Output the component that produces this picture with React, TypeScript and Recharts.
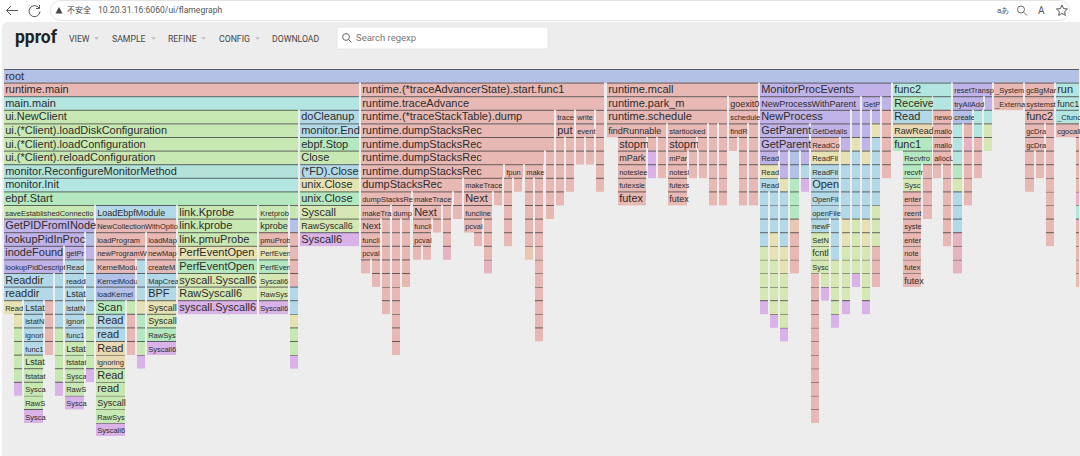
/**
 * pprof flame graph page, frames drawn as stacked horizontal bars
 */

import React from 'react';
import { BarChart, Bar, XAxis, YAxis } from 'recharts';

// [label, start, end, package group]
type Frame = [string, number, number, string];

const level0: Frame[] = [['root', 4, 1080, 'peri']];
const level1: Frame[] = [
  ['runtime.main', 4, 360, 'rt'], ['runtime.(*traceAdvancerState).start.func1', 361, 605, 'rt'],
  ['runtime.mcall', 607, 759, 'rt'], ['MonitorProcEvents', 760, 892, 'purple'], ['func2', 893, 952, 'teal'],
  ['resetTransport', 953, 993, 'purple'], ['_System', 994, 1024, 'rt'], ['gcBgMarkWorker', 1025, 1055, 'rt'],
  ['run', 1056, 1080, 'teal'],
];
const level2: Frame[] = [
  ['main.main', 4, 360, 'teal'], ['runtime.traceAdvance', 361, 605, 'rt'], ['runtime.park_m', 607, 728, 'rt'],
  ['goexit0', 729, 759, 'rt'], ['NewProcessWithParent', 760, 861, 'purple'], ['GetParent', 862, 881, 'purple'],
  ['', 882, 892, 'purple'], ['Receive', 893, 933, 'mint'], ['', 933, 952, 'teal'], ['tryAllAdd', 953, 984, 'purple'],
  ['', 985, 993, 'purple'], ['_External', 994, 1024, 'rt'], ['systemstack', 1025, 1055, 'rt'], ['func1', 1056, 1080, 'teal'],
];
const level3: Frame[] = [
  ['ui.NewClient', 4, 299, 'green'], ['doCleanup', 300, 360, 'lblue'], ['runtime.(*traceStackTable).dump', 361, 555, 'rt'],
  ['traceFrame', 556, 575, 'rt'], ['writeGroup', 576, 595, 'rt'], ['', 596, 605, 'rt'], ['runtime.schedule', 607, 728, 'rt'],
  ['schedule', 729, 759, 'rt'], ['NewProcess', 760, 851, 'purple'], ['', 852, 861, 'purple'], ['', 862, 871, 'purple'],
  ['', 872, 881, 'purple'], ['', 882, 892, 'rt'], ['Read', 893, 933, 'lblue'], ['newobject', 933, 952, 'rt'],
  ['create', 953, 973, 'peri'], ['', 974, 983, 'teal'], ['', 984, 993, 'teal'], ['func2', 1025, 1055, 'rt'],
  ['_Cfunc', 1056, 1080, 'teal'],
];
const level4: Frame[] = [
  ['ui.(*Client).loadDiskConfiguration', 4, 299, 'green'], ['monitor.End', 300, 360, 'lblue'],
  ['runtime.dumpStacksRec', 361, 555, 'rt'], ['put', 556, 575, 'rt'], ['event', 576, 595, 'rt'], ['', 596, 605, 'rt'],
  ['findRunnable', 607, 667, 'rt'], ['startlockedm', 668, 708, 'rt'], ['', 709, 718, 'rt'], ['', 719, 728, 'rt'],
  ['findRunnable', 729, 748, 'rt'], ['', 749, 759, 'rt'], ['GetParent', 760, 810, 'purple'], ['GetDetails', 811, 851, 'purple'],
  ['', 852, 861, 'purple'], ['', 862, 871, 'purple'], ['', 872, 881, 'khaki'], ['', 882, 892, 'rt'], ['RawRead', 893, 933, 'tan'],
  ['mallocgc', 933, 952, 'rt'], ['', 953, 963, 'teal'], ['', 964, 973, 'rt'], ['', 974, 983, 'teal'], ['', 984, 993, 'ygreen'],
  ['gcDrain', 1025, 1045, 'rt'], ['', 1046, 1055, 'rt'], ['cgocall', 1056, 1080, 'rt'],
];
const level5: Frame[] = [
  ['ui.(*Client).loadConfiguration', 4, 299, 'green'], ['ebpf.Stop', 300, 360, 'mint'], ['runtime.dumpStacksRec', 361, 555, 'rt'],
  ['', 556, 565, 'rt'], ['', 566, 575, 'rt'], ['', 576, 585, 'rt'], ['', 586, 595, 'rt'], ['', 596, 605, 'rt'],
  ['stopm', 618, 647, 'rt'], ['', 648, 657, 'rt'], ['', 658, 667, 'rt'], ['stopm', 668, 697, 'rt'], ['', 698, 708, 'rt'],
  ['', 709, 718, 'rt'], ['', 719, 728, 'rt'], ['', 729, 738, 'rt'], ['', 739, 748, 'rt'], ['', 749, 759, 'rt'],
  ['GetParent', 760, 810, 'purple'], ['ReadConfig', 811, 840, 'rt'], ['', 841, 851, 'purple'], ['', 852, 861, 'khaki'],
  ['', 862, 871, 'purple'], ['', 872, 881, 'lblue'], ['', 882, 892, 'rt'], ['func1', 893, 933, 'mint'], ['mallocgc', 933, 952, 'rt'],
  ['', 953, 963, 'teal'], ['', 964, 973, 'pink'], ['', 974, 983, 'rt'], ['', 984, 993, 'ygreen'], ['gcDrain', 1025, 1045, 'rt'],
  ['', 1046, 1055, 'rt'], ['', 1076, 1080, 'rt'],
];
const level6: Frame[] = [
  ['ui.(*Client).reloadConfiguration', 4, 299, 'green'], ['Close', 300, 360, 'green'], ['runtime.dumpStacksRec', 361, 545, 'rt'],
  ['', 546, 555, 'rt'], ['', 556, 565, 'rt'], ['', 566, 575, 'rt'], ['', 576, 585, 'rt'], ['', 586, 595, 'rt'], ['', 596, 605, 'rt'],
  ['mPark', 618, 647, 'rt'], ['', 648, 657, 'violet'], ['', 658, 667, 'rt'], ['mPark', 668, 688, 'rt'], ['', 689, 698, 'rt'],
  ['', 699, 708, 'rt'], ['', 709, 718, 'rt'], ['', 719, 728, 'rt'], ['', 739, 748, 'rt'], ['', 749, 759, 'rt'],
  ['ReadLink', 760, 779, 'purple'], ['', 780, 789, 'purple'], ['', 790, 800, 'peri'], ['', 801, 810, 'purple'],
  ['ReadFile', 811, 840, 'khaki'], ['', 841, 851, 'khaki'], ['', 852, 861, 'lblue'], ['', 862, 871, 'khaki'], ['', 872, 881, 'lblue'],
  ['', 882, 892, 'rt'], ['Recvfrom', 903, 933, 'mint'], ['allocLarge', 933, 952, 'rt'], ['', 953, 963, 'teal'], ['', 964, 973, 'rt'],
  ['', 974, 983, 'rt'], ['', 1025, 1035, 'rt'], ['', 1036, 1045, 'rt'], ['', 1046, 1055, 'rt'], ['', 1076, 1080, 'rt'],
];
const level7: Frame[] = [
  ['monitor.ReconfigureMonitorMethod', 4, 299, 'lteal'], ['(*FD).Close', 300, 360, 'lblue'], ['runtime.dumpStacksRec', 361, 504, 'rt'],
  ['fpunwindExpand', 505, 524, 'rt'], ['makeTraceFrames', 525, 544, 'rt'], ['', 546, 555, 'rt'], ['', 556, 565, 'rt'], ['', 566, 575, 'rt'],
  ['', 596, 605, 'rt'], ['notesleep', 618, 647, 'rt'], ['', 648, 657, 'violet'], ['', 658, 667, 'rt'], ['notesleep', 668, 688, 'rt'],
  ['', 689, 698, 'rt'], ['', 699, 708, 'rt'], ['', 709, 718, 'rt'], ['', 719, 728, 'rt'], ['', 739, 748, 'rt'], ['', 749, 759, 'rt'],
  ['ReadLink', 760, 779, 'khaki'], ['', 780, 789, 'purple'], ['', 790, 800, 'peri'], ['', 801, 810, 'lblue'], ['ReadFile', 811, 840, 'lblue'],
  ['', 841, 851, 'lblue'], ['', 852, 861, 'lblue'], ['', 862, 871, 'lblue'], ['', 872, 881, 'lblue'], ['', 882, 892, 'rt'],
  ['recvfrom', 903, 922, 'mint'], ['', 923, 933, 'rt'], ['', 933, 942, 'rt'], ['', 943, 952, 'rt'], ['', 953, 963, 'mint'], ['', 964, 973, 'rt'],
  ['', 974, 983, 'rt'], ['', 1025, 1035, 'rt'], ['', 1036, 1045, 'rt'], ['', 1046, 1055, 'rt'], ['', 1076, 1080, 'rt'],
];
const level8: Frame[] = [
  ['monitor.Init', 4, 299, 'teal'], ['unix.Close', 300, 360, 'khaki'], ['dumpStacksRec', 361, 463, 'rt'], ['makeTraceFrames', 464, 503, 'rt'],
  ['', 504, 513, 'rt'], ['', 514, 523, 'rt'], ['', 525, 534, 'rt'], ['', 535, 544, 'rt'], ['', 546, 555, 'rt'], ['', 556, 565, 'rt'],
  ['', 566, 575, 'rt'], ['', 596, 605, 'rt'], ['futexsleep', 618, 647, 'rt'], ['futexsleep', 668, 688, 'rt'], ['', 709, 718, 'rt'],
  ['', 719, 728, 'rt'], ['', 739, 748, 'rt'], ['', 749, 759, 'rt'], ['ReadLink', 760, 779, 'lblue'], ['', 780, 789, 'khaki'],
  ['', 790, 800, 'mint'], ['', 801, 810, 'violet'], ['Open', 811, 840, 'lblue'], ['', 841, 851, 'lblue'], ['', 852, 861, 'lblue'],
  ['', 862, 871, 'lblue'], ['', 872, 881, 'lblue'], ['Syscall', 903, 922, 'ygreen'], ['', 923, 933, 'rt'], ['', 943, 952, 'rt'],
  ['', 953, 963, 'ygreen'], ['', 964, 973, 'rt'], ['', 1025, 1035, 'rt'], ['', 1046, 1055, 'rt'], ['', 1076, 1080, 'rt'],
];
const level9: Frame[] = [
  ['ebpf.Start', 4, 299, 'mint'], ['unix.Close', 300, 360, 'mint'], ['dumpStacksRec', 361, 412, 'rt'], ['makeTraceFrames', 413, 453, 'rt'],
  ['', 454, 463, 'rt'], ['Next', 464, 493, 'rt'], ['', 494, 503, 'rt'], ['', 504, 513, 'rt'], ['', 525, 534, 'rt'], ['', 535, 544, 'rt'],
  ['', 546, 555, 'rt'], ['', 556, 565, 'rt'], ['futex', 618, 647, 'rt'], ['futex', 668, 688, 'rt'], ['', 709, 718, 'rt'], ['', 719, 728, 'rt'],
  ['', 739, 748, 'rt'], ['', 749, 759, 'rt'], ['', 760, 769, 'lblue'], ['', 770, 779, 'lblue'], ['', 780, 789, 'lblue'], ['', 790, 800, 'mint'],
  ['OpenFile', 811, 840, 'lblue'], ['', 841, 851, 'lblue'], ['', 852, 861, 'lblue'], ['', 862, 871, 'lblue'], ['', 872, 881, 'lblue'],
  ['entersyscall', 903, 922, 'rt'], ['', 923, 933, 'rt'], ['', 943, 952, 'rt'], ['', 953, 963, 'lblue'], ['', 964, 973, 'rt'],
  ['', 1046, 1055, 'rt'], ['', 1076, 1080, 'pink'],
];
const level10: Frame[] = [
  ['saveEstablishedConnection', 4, 95, 'green'], ['LoadEbpfModule', 96, 177, 'lblue'], ['link.Kprobe', 178, 258, 'green'],
  ['Kretprobe', 259, 289, 'green'], ['', 290, 299, 'green'], ['Syscall', 300, 360, 'ygreen'], ['makeTraceFrames', 361, 391, 'rt'],
  ['dumpStacksRec', 392, 411, 'rt'], ['Next', 413, 442, 'rt'], ['', 443, 452, 'rt'], ['', 453, 463, 'rt'], ['funcline1', 464, 493, 'rt'],
  ['', 504, 513, 'rt'], ['', 525, 534, 'rt'], ['', 535, 544, 'rt'], ['', 546, 555, 'rt'], ['', 760, 769, 'lblue'], ['', 770, 779, 'lblue'],
  ['', 780, 789, 'lblue'], ['', 790, 800, 'mint'], ['openFile', 811, 840, 'lblue'], ['', 841, 851, 'lblue'], ['', 852, 861, 'lblue'],
  ['', 862, 871, 'lblue'], ['', 872, 881, 'ygreen'], ['reentersyscall', 903, 922, 'rt'], ['', 923, 933, 'rt'], ['', 943, 952, 'rt'],
  ['', 953, 963, 'lblue'], ['', 1046, 1055, 'rt'], ['', 1076, 1080, 'teal'],
];
const level11: Frame[] = [
  ['GetPIDFromINode', 4, 95, 'purple'], ['NewCollectionWithOptions', 96, 177, 'rt'], ['link.kprobe', 178, 258, 'green'],
  ['kprobe', 259, 289, 'green'], ['', 290, 299, 'peri'], ['RawSyscall6', 300, 360, 'ygreen'], ['Next', 361, 381, 'rt'], ['', 382, 391, 'rt'],
  ['', 392, 401, 'rt'], ['', 402, 411, 'rt'], ['funcline1', 413, 432, 'rt'], ['', 433, 442, 'rt'], ['', 443, 452, 'rt'], ['pcvalue', 464, 483, 'rt'],
  ['', 484, 493, 'rt'], ['', 504, 513, 'rt'], ['', 525, 534, 'rt'], ['', 535, 544, 'rt'], ['', 760, 769, 'lblue'], ['', 770, 779, 'lblue'],
  ['', 780, 789, 'lblue'], ['', 790, 800, 'orange'], ['newFile', 811, 830, 'lblue'], ['', 831, 840, 'lblue'], ['', 842, 851, 'khaki'],
  ['', 852, 861, 'ygreen'], ['', 862, 871, 'khaki'], ['', 872, 881, 'ygreen'], ['systemstack', 903, 922, 'rt'], ['', 943, 952, 'rt'],
  ['', 953, 963, 'lblue'], ['', 1046, 1055, 'rt'], ['', 1076, 1080, 'rt'],
];
const level12: Frame[] = [
  ['lookupPidInProc', 4, 85, 'purple'], ['', 86, 95, 'peri'], ['loadProgram', 96, 146, 'rt'], ['loadMaps', 147, 177, 'rt'],
  ['link.pmuProbe', 178, 258, 'green'], ['pmuProbe', 259, 289, 'rt'], ['', 290, 299, 'rt'], ['Syscall6', 300, 360, 'violet'],
  ['funcline1', 361, 381, 'rt'], ['', 382, 391, 'rt'], ['', 392, 401, 'rt'], ['', 402, 411, 'rt'], ['pcvalue', 413, 432, 'rt'], ['', 443, 452, 'rt'],
  ['', 474, 483, 'rt'], ['', 484, 493, 'rt'], ['', 504, 513, 'rt'], ['', 525, 534, 'rt'], ['', 535, 544, 'rt'], ['', 760, 769, 'lblue'],
  ['', 770, 779, 'khaki'], ['', 780, 789, 'lblue'], ['', 790, 800, 'rt'], ['SetNonblock', 811, 830, 'ygreen'], ['', 831, 840, 'lblue'],
  ['', 842, 851, 'khaki'], ['', 852, 861, 'ygreen'], ['', 862, 871, 'khaki'], ['', 872, 881, 'ygreen'], ['entersyscall', 903, 922, 'rt'],
  ['', 943, 952, 'rt'], ['', 953, 963, 'pink'], ['', 1046, 1055, 'rt'], ['', 1076, 1080, 'rt'],
];
const level13: Frame[] = [
  ['inodeFound', 4, 64, 'purple'], ['getPrograms', 65, 85, 'purple'], ['', 86, 95, 'purple'], ['newProgramWithOptions', 96, 146, 'rt'],
  ['newMapWithOptions', 147, 177, 'rt'], ['PerfEventOpen', 178, 258, 'khaki'], ['PerfEventOpen', 259, 289, 'khaki'], ['', 290, 299, 'rt'],
  ['pcvalue', 361, 381, 'rt'], ['', 382, 391, 'rt'], ['', 392, 401, 'rt'], ['', 402, 411, 'rt'], ['', 413, 422, 'rt'], ['', 423, 432, 'rt'],
  ['', 443, 452, 'pink'], ['', 484, 493, 'rt'], ['', 525, 534, 'orange'], ['', 535, 544, 'rt'], ['', 760, 769, 'ygreen'], ['', 770, 779, 'khaki'],
  ['', 780, 789, 'khaki'], ['', 790, 800, 'rt'], ['fcntl', 811, 830, 'ygreen'], ['', 831, 840, 'lblue'], ['', 842, 851, 'ygreen'],
  ['', 852, 861, 'ygreen'], ['', 862, 871, 'ygreen'], ['', 872, 881, 'rt'], ['notewakeup', 903, 922, 'rt'], ['', 953, 963, 'pink'], ['', 1076, 1080, 'rt'],
];
const level14: Frame[] = [
  ['lookupPidDescriptors', 4, 64, 'purple'], ['ReadDir', 65, 85, 'lblue'], ['', 86, 95, 'lblue'], ['KernelModuleTypes', 96, 136, 'rt'],
  ['', 137, 146, 'lblue'], ['createMap', 147, 177, 'rt'], ['PerfEventOpen', 178, 258, 'mint'], ['PerfEventOpen', 259, 289, 'mint'], ['', 290, 299, 'rt'],
  ['', 361, 371, 'rt'], ['', 372, 381, 'rt'], ['', 382, 391, 'rt'], ['', 392, 401, 'rt'], ['', 402, 411, 'rt'], ['', 484, 493, 'pink'], ['', 535, 544, 'rt'],
  ['', 760, 769, 'ygreen'], ['', 770, 779, 'ygreen'], ['', 780, 789, 'khaki'], ['', 790, 800, 'rt'], ['Syscall', 811, 830, 'ygreen'], ['', 831, 840, 'ygreen'],
  ['', 842, 851, 'ygreen'], ['', 852, 861, 'ygreen'], ['', 862, 871, 'ygreen'], ['', 872, 881, 'rt'], ['futexwakeup', 903, 922, 'rt'], ['', 953, 963, 'pink'],
  ['', 1076, 1080, 'rt'],
];
const level15: Frame[] = [
  ['Readdir', 4, 54, 'lblue'], ['', 55, 64, 'lblue'], ['readdir', 65, 85, 'lblue'], ['', 86, 95, 'lblue'], ['KernelModuleTypes', 96, 136, 'peri'],
  ['', 137, 146, 'lblue'], ['MapCreate', 147, 177, 'lblue'], ['syscall.Syscall6', 178, 258, 'ygreen'], ['Syscall6', 259, 289, 'ygreen'], ['', 290, 299, 'rt'],
  ['', 372, 381, 'rt'], ['', 382, 391, 'rt'], ['', 392, 401, 'rt'], ['', 402, 411, 'rt'], ['', 535, 544, 'rt'], ['', 760, 769, 'ygreen'], ['', 770, 779, 'ygreen'],
  ['', 780, 789, 'ygreen'], ['', 811, 820, 'rt'], ['', 821, 830, 'ygreen'], ['', 831, 840, 'ygreen'], ['', 842, 851, 'ygreen'], ['', 852, 861, 'violet'],
  ['', 862, 871, 'ygreen'], ['', 872, 881, 'rt'], ['futex', 903, 922, 'rt'], ['', 1076, 1080, 'rt'],
];
const level16: Frame[] = [
  ['readdir', 4, 54, 'lblue'], ['', 55, 64, 'lblue'], ['Lstat', 65, 85, 'lblue'], ['', 86, 95, 'lblue'], ['loadKernelModule', 96, 136, 'peri'],
  ['', 137, 146, 'lblue'], ['BPF', 147, 177, 'lblue'], ['RawSyscall6', 178, 258, 'ygreen'], ['RawSyscall6', 259, 289, 'ygreen'], ['', 290, 299, 'lblue'],
  ['', 382, 391, 'rt'], ['', 392, 401, 'rt'], ['', 535, 544, 'rt'], ['', 760, 769, 'ygreen'], ['', 770, 779, 'ygreen'], ['', 780, 789, 'ygreen'],
  ['', 811, 820, 'rt'], ['', 821, 830, 'violet'], ['', 831, 840, 'ygreen'], ['', 842, 851, 'ygreen'], ['', 862, 871, 'ygreen'],
];
const level17: Frame[] = [
  ['ReadDirent', 4, 23, 'khaki'], ['Lstat', 24, 44, 'lblue'], ['', 45, 54, 'rt'], ['', 55, 64, 'lblue'], ['lstatNolog', 65, 85, 'lblue'], ['', 86, 95, 'lblue'],
  ['Scan', 96, 126, 'mint'], ['', 127, 136, 'green'], ['', 137, 146, 'khaki'], ['Syscall', 147, 177, 'khaki'], ['syscall.Syscall6', 178, 258, 'violet'],
  ['Syscall6', 259, 289, 'violet'], ['', 290, 299, 'lblue'], ['', 382, 391, 'rt'], ['', 392, 401, 'rt'], ['', 535, 544, 'rt'], ['', 760, 769, 'violet'],
  ['', 770, 779, 'ygreen'], ['', 780, 789, 'ygreen'], ['', 811, 820, 'rt'], ['', 831, 840, 'ygreen'], ['', 842, 851, 'violet'], ['', 862, 871, 'violet'],
];
const level18: Frame[] = [
  ['', 14, 23, 'khaki'], ['lstatNolog', 24, 44, 'lblue'], ['', 45, 54, 'rt'], ['', 55, 64, 'lblue'], ['ignoringEINTR', 65, 85, 'lblue'], ['', 86, 95, 'green'],
  ['Read', 96, 126, 'lblue'], ['', 127, 136, 'rt'], ['', 137, 146, 'mint'], ['Syscall', 147, 177, 'ygreen'], ['', 290, 299, 'khaki'], ['', 392, 401, 'rt'],
  ['', 535, 544, 'rt'], ['', 770, 779, 'violet'], ['', 780, 789, 'ygreen'], ['', 811, 820, 'rt'], ['', 831, 840, 'violet'],
];
const level19: Frame[] = [
  ['', 14, 23, 'green'], ['ignoringEINTR', 24, 44, 'lblue'], ['', 45, 54, 'rt'], ['', 55, 64, 'green'], ['func1', 65, 85, 'lblue'], ['', 86, 95, 'green'],
  ['read', 96, 126, 'lblue'], ['', 127, 136, 'rt'], ['', 137, 146, 'mint'], ['RawSyscall6', 147, 177, 'mint'], ['', 290, 299, 'green'], ['', 392, 401, 'rt'],
  ['', 535, 544, 'rt'], ['', 780, 789, 'violet'], ['', 811, 820, 'rt'],
];
const level20: Frame[] = [
  ['', 14, 23, 'green'], ['func1', 24, 44, 'lblue'], ['', 45, 54, 'rt'], ['', 55, 64, 'green'], ['Lstat', 65, 85, 'green'], ['', 86, 95, 'green'],
  ['Read', 96, 126, 'tan'], ['', 127, 136, 'rt'], ['', 137, 146, 'green'], ['Syscall6', 147, 177, 'violet'], ['', 290, 299, 'green'], ['', 392, 401, 'rt'],
  ['', 811, 820, 'rt'],
];
const level21: Frame[] = [
  ['', 14, 23, 'green'], ['Lstat', 24, 44, 'green'], ['', 55, 64, 'green'], ['fstatat', 65, 85, 'green'], ['', 86, 95, 'green'], ['ignoringEINTRIO', 96, 126, 'tan'],
  ['', 137, 146, 'violet'], ['', 290, 299, 'violet'], ['', 811, 820, 'rt'],
];
const level22: Frame[] = [
  ['', 14, 23, 'green'], ['fstatat', 24, 44, 'green'], ['', 55, 64, 'green'], ['Syscall', 65, 85, 'green'], ['', 86, 95, 'violet'], ['Read', 96, 126, 'green'],
  ['', 811, 820, 'rt'],
];
const level23: Frame[] = [
  ['', 14, 23, 'violet'], ['Syscall', 24, 44, 'green'], ['', 55, 64, 'violet'], ['RawSyscall6', 65, 85, 'green'], ['read', 96, 126, 'green'], ['', 811, 820, 'rt'],
];
const level24: Frame[] = [
  ['RawSyscall6', 24, 44, 'green'], ['Syscall6', 65, 85, 'violet'], ['Syscall', 96, 126, 'green'], ['', 811, 820, 'rt'],
];
const level25: Frame[] = [['Syscall6', 24, 44, 'violet'], ['RawSyscall6', 96, 126, 'green'], ['', 811, 820, 'rt']];
const level26: Frame[] = [['Syscall6', 96, 126, 'violet']];

const levels = [
  level0, level1, level2, level3, level4, level5, level6, level7, level8, level9, level10, level11, level12, level13,
  level14, level15, level16, level17, level18, level19, level20, level21, level22, level23, level24, level25, level26,
];

const menuItems = ['VIEW', 'SAMPLE', 'REFINE', 'CONFIG', 'DOWNLOAD'];

const colors: Record<string, string> = {
  rt: '#e8b9b4',
  teal: '#b3e5e1',
  lteal: '#b3e2d8',
  green: '#c8e8b3',
  ygreen: '#d5e8b3',
  khaki: '#e6e2b3',
  tan: '#e8d9b3',
  orange: '#e8c8b3',
  mint: '#b3e8c0',
  lblue: '#b3d9e8',
  purple: '#c0b3e8',
  violet: '#d9b3e8',
  pink: '#e8b3c0',
  peri: '#b3c1e6',
};

const ROW = 13.6;
const FONT = '"Liberation Sans", Arial, sans-serif';
const slotCount = Math.max(...levels.map((l) => l.length));

// each level is one stacked row: gap, frame, gap, frame...
const rows = levels.map((frames, i) => {
  const row: Record<string, number> = { level: i };
  let cursor = 0;
  frames.forEach((f, s) => {
    row[`g${s}`] = f[1] - cursor;
    row[`w${s}`] = f[2] - f[1];
    cursor = f[2];
  });
  return row;
});

const ctx = document.createElement('canvas').getContext('2d')!;
const measure = (label: string, size: number) => {
  ctx.font = `${size}px "Liberation Sans"`;
  return ctx.measureText(label).width;
};
const fontFor = (label: string, width: number) => {
  for (const size of [11, 9]) {
    if (measure(label, size) <= width + 2) return size;
  }
  return 7.5;
};
// narrow frames only show the start of their name
const fitLabel = (label: string, size: number, width: number) => {
  let text = label;
  while (text.length > 1 && measure(text, size) > width) text = text.slice(0, -1);
  return text;
};

const FrameBox = (props: any) => {
  const { x, y, width, height, payload, slot } = props;
  const frame = levels[payload.level][slot];
  if (!frame) return null;
  const [label, , , group] = frame;
  const w = Math.max(width - 1, 1);
  const size = label ? fontFor(label, w) : 0;
  return (
    <g>
      <rect x={x} y={y} width={w} height={height} fill={colors[group]} />
      <rect x={x} y={y} width={w} height={1} fill="#3a3a3a" fillOpacity={0.75} />
      {label && (
        <text x={x + 1.2} y={y + height / 2 + 3.6} fontFamily={FONT} fontSize={size} fill="#2b2b2b">
          {fitLabel(label, size, w + 2)}
        </text>
      )}
    </g>
  );
};

const BrowserBar = () => (
  <svg width={1080} height={23} style={{ position: 'absolute', left: 0, top: 0 }}>
    <path d="M18 10.5H7M11 6l-4.5 4.5L11 15" fill="none" stroke="#555" strokeWidth={1} />
    <path d="M39 8a5.5 5.5 0 1 0 1 3.5M39.5 5v3.5H36" fill="none" stroke="#555" strokeWidth={1} />
    <rect x={50.5} y={0.5} width={1019} height={20} rx={10} fill="#fff" stroke="#e4e4e4" />
    <path d="M59 7l3.5 6.5h-7z" fill="#444" />
    <text x={67} y={13} fontSize={8} fontFamily='"Noto Sans CJK SC"' fill="#444">不安全</text>
    <text x={98} y={13} fontSize={8.6} fontFamily="Roboto" fill="#555">10.20.31.16:6060/ui/flamegraph</text>
    <text x={997} y={13} fontSize={8} fontFamily="Roboto" fill="#555">aあ</text>
    <circle cx={1021} cy={9.5} r={3.5} fill="none" stroke="#666" />
    <path d="M1024 12.5l3 3" stroke="#666" />
    <text x={1038} y={14} fontSize={10} fontFamily="Roboto" fill="#555">A</text>
    <path d="M1062 5l1.6 3.6 3.9.4-2.9 2.6.8 3.8-3.4-2-3.4 2 .8-3.8-2.9-2.6 3.9-.4z" fill="none" stroke="#555" />
  </svg>
);

const PprofHeader = () => {
  const xs = [69, 112, 168, 219, 272];
  return (
    <svg width={1080} height={46} style={{ position: 'absolute', left: 0, top: 22 }}>
      <text x={15} y={21} fontSize={17.5} fontWeight={700} fontFamily="Roboto" fill="#222">pprof</text>
      {menuItems.map((m, i) => (
        <g key={m}>
          <text x={xs[i]} y={19.5} fontSize={8.7} fontFamily="Roboto" fill="#444">{m}</text>
          {i < 4 && <path d={`M${xs[i] + [25, 39, 33, 36][i]} 15h5l-2.5 3z`} fill="#c4c4c4" />}
        </g>
      ))}
      <rect x={337} y={5} width={211} height={22} fill="#fff" stroke="#e6e6e6" />
      <circle cx={346} cy={15} r={3.4} fill="none" stroke="#666" />
      <path d="M348.5 17.5l3 3" stroke="#666" />
      <text x={356} y={19} fontSize={9.5} fontFamily="Roboto" fill="#777">Search regexp</text>
    </svg>
  );
};

const App = () => (
  <div style={{ position: 'fixed', left: 0, top: 0, width: 1080, height: 456, overflow: 'hidden', background: '#fff' }}>
    <div style={{ position: 'absolute', left: 2, top: 22, width: 1078, height: 434, background: '#ededed', borderTopLeftRadius: 6 }} />
    <BrowserBar />
    <PprofHeader />
    <div style={{ position: 'absolute', left: 0, top: 68.6 }}>
      <BarChart
        width={1080}
        height={ROW * levels.length}
        layout="vertical"
        data={rows}
        margin={{ top: 0, right: 0, bottom: 0, left: 0 }}
        barCategoryGap={0}
        barGap={0}
      >
        <XAxis type="number" domain={[0, 1080]} hide allowDataOverflow />
        <YAxis type="category" dataKey="level" hide />
        {Array.from({ length: slotCount }).flatMap((_, s) => [
          <Bar key={`g${s}`} dataKey={`g${s}`} stackId="flame" fill="none" isAnimationActive={false} />,
          <Bar
            key={`w${s}`}
            dataKey={`w${s}`}
            stackId="flame"
            isAnimationActive={false}
            shape={(p: any) => <FrameBox {...p} slot={s} />}
          />,
        ])}
      </BarChart>
    </div>
  </div>
);

export default App;
